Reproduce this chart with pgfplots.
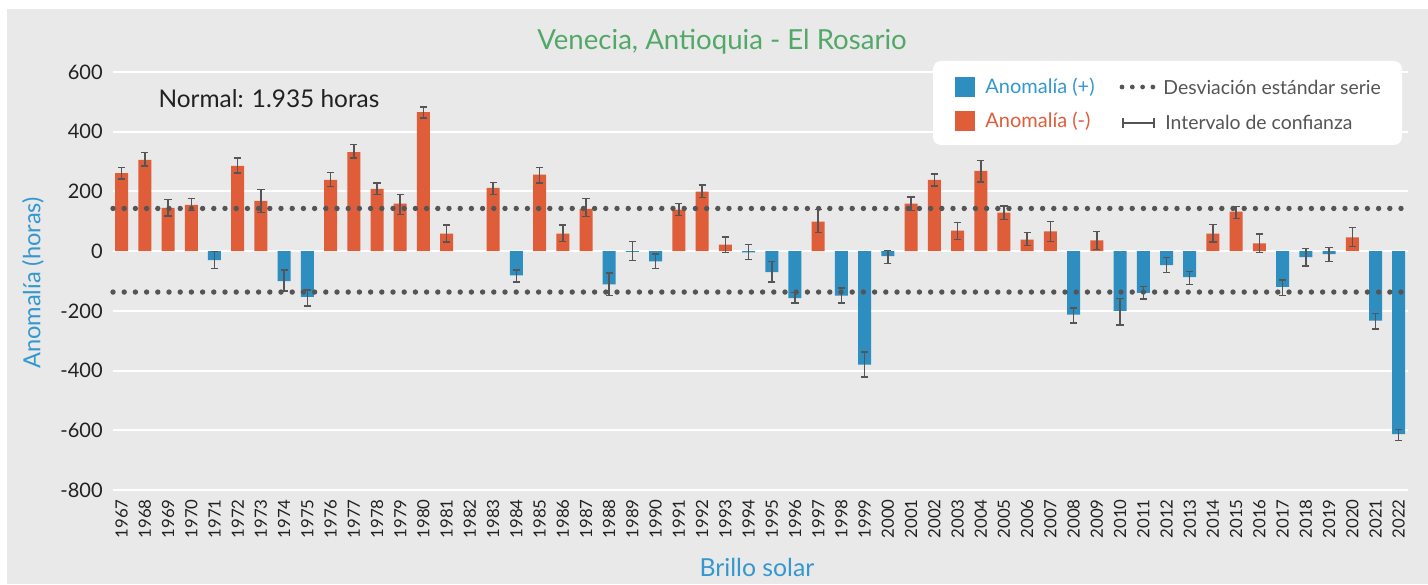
\documentclass[border=0pt]{standalone}
\usepackage{pgfplots}
\pgfplotsset{compat=1.18}
\usepackage{pgfplotstable}
\usepackage{fontspec}
\setmainfont{Lato}
\definecolor{bgC}{RGB}{232,233,232}
\definecolor{blueC}{RGB}{46,142,192}
\definecolor{orangeC}{RGB}{224,93,57}
\definecolor{blueT}{RGB}{52,152,208}
\definecolor{greenT}{RGB}{82,168,104}
\definecolor{errC}{RGB}{85,85,85}
\definecolor{dotC}{RGB}{85,85,85}

\pgfplotstableread{
x y ep em
1967 261 19 19
1968 306 24 20
1969 145 28 28
1970 155 22 18
1972 286 26 24
1973 168 38 39
1976 239 24 23
1977 332 25 20
1978 209 20 20
1979 159 30 37
1980 466 17 20
1981 59 28 29
1983 212 18 23
1985 256 24 27
1986 59 28 27
1987 142 35 26
1991 139 20 20
1992 199 23 20
1993 22 25 26
1997 99 40 37
2001 159 23 23
2002 239 20 20
2003 69 27 30
2004 269 34 37
2005 129 23 23
2006 39 23 20
2007 66 33 34
2009 36 30 30
2014 59 31 29
2015 132 17 23
2016 26 31 30
2020 46 34 30
}\pos

\pgfplotstableread{
x y ep em
1971 -30 29 28
1974 -100 37 33
1975 -153 23 30
1984 -81 18 23
1988 -111 38 37
1989 -2 35 29
1990 -34 24 24
1994 -4 27 24
1995 -70 36 34
1996 -157 18 17
1998 -149 25 25
1999 -380 43 41
2000 -17 20 24
2008 -213 22 28
2010 -200 42 48
2011 -140 22 21
2012 -47 26 24
2013 -87 19 24
2017 -120 23 28
2018 -20 29 30
2019 -10 23 24
2021 -233 25 28
2022 -613 15 21
}\negt

\pgfplotstableread{
x y
1966.63 143
2022.40 143
}\sdup

\pgfplotstableread{
x y
1966.63 -137
2022.40 -137
}\sddown

\begin{document}
\begin{tikzpicture}
\fill[white] (0,0) rectangle (714pt,292pt);
\fill[bgC] (3.5pt,0) rectangle (714pt,287.5pt);
\begin{axis}[
  at={(56.5pt,47pt)}, anchor=south west,
  scale only axis, width=647.5pt, height=209pt,
  xmin=1966.63, xmax=2022.4, ymin=-800, ymax=600,
  axis line style={draw=none}, tick style={draw=none},
  ymajorgrids, major grid style={white, line width=1pt},
  ytick={-800,-600,-400,-200,0,200,400,600},
  xtick={1967,1968,1969,1970,1971,1972,1973,1974,1975,1976,1977,1978,1979,1980,1981,1982,1983,1984,1985,1986,1987,1988,1989,1990,1991,1992,1993,1994,1995,1996,1997,1998,1999,2000,2001,2002,2003,2004,2005,2006,2007,2008,2009,2010,2011,2012,2013,2014,2015,2016,2017,2018,2019,2020,2021,2022},
  xticklabels={1967,1968,1969,1970,1971,1972,1973,1974,1975,1976,1977,1978,1979,1980,1981,1982,1983,1984,1985,1986,1987,1988,1989,1990,1991,1992,1993,1994,1995,1996,1997,1998,1999,2000,2001,2002,2003,2004,2005,2006,2007,2008,2009,2010,2011,2012,2013,2014,2015,2016,2017,2018,2019,2020,2021,2022},
  /pgf/number format/.cd, 1000 sep={}, assume math mode=true,
  /pgfplots/.cd,
  xticklabel style={rotate=90, anchor=east, inner sep=0pt, font=\fontsize{8.4}{9}\selectfont, text=black!87},
  yticklabel style={anchor=east, inner sep=0pt, font=\fontsize{10}{12}\selectfont, text=black!87},
  xticklabel shift=4.5pt, yticklabel shift=5pt,
  clip=false,
]
\addplot[ybar, bar width=0.56, bar shift=0pt, fill=orangeC, draw=none,
  error bars/.cd, y dir=both, y explicit,
  error bar style={line width=0.75pt, color=errC},
  error mark options={rotate=90, line width=0.75pt, color=errC, mark size=1.8pt}]
  table[x=x, y=y, y error plus=ep, y error minus=em] {\pos};
\addplot[ybar, bar width=0.56, bar shift=0pt, fill=blueC, draw=none,
  error bars/.cd, y dir=both, y explicit,
  error bar style={line width=0.75pt, color=errC},
  error mark options={rotate=90, line width=0.75pt, color=errC, mark size=1.8pt}]
  table[x=x, y=y, y error plus=ep, y error minus=em] {\negt};
\addplot[dotC, line width=2.7pt, line cap=round, dash pattern=on 0pt off 5.6pt] table[x=x,y=y] {\sdup};
\addplot[dotC, line width=2.7pt, line cap=round, dash pattern=on 0pt off 5.6pt] table[x=x,y=y] {\sddown};
\end{axis}
\begin{scope}[x=0.5pt, y=-0.5pt, yshift=292pt]
  % title and labels
  \node[text=greenT, font=\fontsize{13.8}{15}\selectfont] at (722,42) {Venecia, Antioquia - El Rosario};
  \node[text=black!87, font=\fontsize{12.2}{14}\selectfont] at (269,99) {Normal: 1.935 horas};
  \node[text=blueT, font=\fontsize{11.8}{13}\selectfont, rotate=90] at (33,283) {Anomalía (horas)};
  \node[text=blueT, font=\fontsize{12.4}{14}\selectfont] at (757,567) {Brillo solar};
  % legend
  \fill[white, rounded corners=4pt] (933,61) rectangle (1402,145);
  \fill[blueC] (955,77) rectangle (975,97);
  \fill[orangeC] (955,111) rectangle (975,131);
  \node[anchor=west, inner sep=0pt, text=blueT, font=\fontsize{10}{12}\selectfont] at (985,87) {Anomalía (+)};
  \node[anchor=west, inner sep=0pt, text=orangeC, font=\fontsize{10}{12}\selectfont] at (985,121) {Anomalía (-)};
  \draw[dotC, line width=2.4pt, line cap=round, dash pattern=on 0pt off 5.15pt] (1122,87) -- (1153,87);
  \node[anchor=west, inner sep=0pt, text=errC, font=\fontsize{9.7}{12}\selectfont] at (1163,87) {Desviación estándar serie};
  \draw[errC, line width=0.75pt] (1123,123) -- (1154,123);
  \draw[errC, line width=0.75pt] (1123,118) -- (1123,128);
  \draw[errC, line width=0.75pt] (1154,118) -- (1154,128);
  \node[anchor=west, inner sep=0pt, text=errC, font=\fontsize{9.7}{12}\selectfont] at (1165,122) {Intervalo de confianza};
\end{scope}
\pgfresetboundingbox
\path (0,0) rectangle (714pt,292pt);
\end{tikzpicture}
\end{document}
